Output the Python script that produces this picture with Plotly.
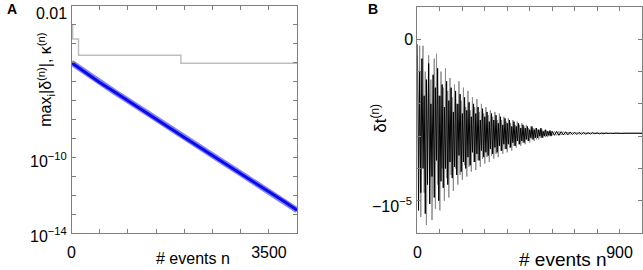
import plotly.graph_objects as go

W, H = 643, 270

# ---------------- Panel A data ----------------
kappa_n = [0, 18, 18, 123, 123, 1938, 1938, 4000]
kappa_v = [1.0e-3, 1.0e-3, 1.8e-4, 1.8e-4, 2.5e-5, 2.5e-5, 9.3e-6, 9.3e-6]

delta_n = [0, 250, 500, 750, 1000, 1250, 1500, 1750, 2000, 2250, 2500,
           2750, 3000, 3250, 3500, 3750, 4000]
delta_v = [1.0e-5, 2.9e-6, 9.1e-7, 3.0e-7, 1.0e-7, 3.2e-8, 1.07e-8, 3.4e-9,
           1.12e-9, 3.7e-10, 1.25e-10, 4.2e-11, 1.38e-11, 4.6e-12, 1.5e-12,
           5.0e-13, 1.6e-13]

a_xticks = [0, 500, 1000, 1500, 2000, 2500, 3000, 3500, 4000]
a_xtext = ["0", "", "", "", "", "", "", "3500", ""]
a_yticks = [1e-14, 1e-13, 1e-12, 1e-11, 1e-10, 1e-9, 1e-8, 1e-7, 1e-6,
            1e-5, 1e-4, 1e-3, 1e-2]
# labelled y ticks of panel A: (label, pixel row of the label centre)
a_ylabels = [("10<sup>\u221214</sup>", 235), ("10<sup>\u221210</sup>", 160),
             ("0.01", 13)]

# ---------------- Panel B data (units of 1e-6) ----------------
b_n = list(range(0, 600, 5)) + list(range(600, 1001, 10))

black_v = [
    -0.3, -10.6, -2.0, -9.5, -1.2, -8.0, -3.5, -10.8, -2.5, -9.0,
    -1.5, -10.2, -4.0, -8.5, -2.2, -9.8, -3.0, -7.5, -1.8, -10.0,
    -3.5, -8.8, -2.8, -9.2, -4.2, -8.0, -2.6, -9.0, -3.8, -7.6,
    -3.0, -8.6, -4.5, -7.9, -3.2, -8.4, -4.0, -7.2, -3.4, -8.2,
    -4.6, -7.6, -3.6, -8.0, -4.4, -7.3, -3.9, -7.8, -4.8, -7.0,
    -4.0, -7.6, -4.6, -7.1, -4.2, -7.5, -5.0, -6.9, -4.3, -7.3,
    -4.8, -7.0, -4.5, -7.2, -5.1, -6.8, -4.6, -7.1, -5.0, -6.7,
    -4.7, -7.0, -5.2, -6.6, -4.8, -6.9, -5.3, -6.5, -4.9, -6.8,
    -5.2, -6.5, -5.0, -6.7, -5.4, -6.4, -5.1, -6.6, -5.4, -6.3,
    -5.2, -6.5, -5.5, -6.3, -5.3, -6.4, -5.5, -6.2, -5.4, -6.3,
    -5.6, -6.1, -5.4, -6.2, -5.6, -6.1, -5.5, -6.1, -5.6, -6.0,
    -5.5, -6.1, -5.7, -6.0, -5.6, -6.0, -5.7, -5.95, -5.65, -6.0,
    -5.7, -5.95, -5.7, -5.95, -5.72, -5.93, -5.73, -5.92, -5.74, -5.9,
    -5.75, -5.9, -5.76, -5.88, -5.77, -5.88, -5.78, -5.87, -5.78, -5.86,
    -5.79, -5.86, -5.8, -5.85, -5.8, -5.84, -5.81, -5.84, -5.81, -5.83,
    -5.81, -5.83, -5.82, -5.83, -5.82, -5.83, -5.82, -5.82, -5.82, -5.82,
    -5.82,
]

grey_v = [
    -1.0, -8.0, -0.4, -11.0, -3.0, -0.4, -9.5, -2.0, -11.5, -4.0,
    -1.0, -8.5, -2.5, -11.2, -5.0, -1.2, -10.5, -0.9, -9.0, -3.5,
    -10.6, -2.0, -8.0, -3.0, -10.0, -1.8, -8.6, -3.2, -9.8, -2.4,
    -8.4, -3.6, -9.4, -2.8, -8.0, -4.0, -9.0, -2.6, -8.4, -3.8,
    -8.7, -3.0, -7.8, -4.2, -8.5, -3.2, -7.9, -4.4, -8.2, -3.6,
    -7.6, -4.2, -8.1, -3.7, -7.5, -4.5, -7.9, -4.0, -7.4, -4.6,
    -7.7, -4.2, -7.3, -4.7, -7.6, -4.4, -7.2, -4.8, -7.4, -4.5,
    -7.1, -5.0, -7.3, -4.6, -6.9, -5.0, -7.1, -4.8, -6.8, -5.1,
    -7.0, -4.9, -6.7, -5.2, -6.9, -5.0, -6.6, -5.3, -6.7, -5.1,
    -6.5, -5.3, -6.6, -5.2, -6.4, -5.4, -6.5, -5.3, -6.3, -5.5,
    -6.4, -5.4, -6.2, -5.5, -6.3, -5.5, -6.2, -5.6, -6.2, -5.6,
    -6.1, -5.6, -6.1, -5.65, -6.05, -5.65, -6.05, -5.7, -6.0, -5.7,
    -5.95, -5.7, -5.95, -5.7, -5.93, -5.72, -5.92, -5.74, -5.9, -5.75,
    -5.9, -5.76, -5.88, -5.77, -5.87, -5.78, -5.87, -5.78, -5.86, -5.79,
    -5.85, -5.8, -5.85, -5.8, -5.84, -5.81, -5.84, -5.81, -5.83, -5.82,
    -5.83, -5.82, -5.83, -5.82, -5.82, -5.82, -5.82, -5.82, -5.82, -5.82,
    -5.82,
]

b_xticks = [0, 100, 200, 300, 400, 500, 600, 700, 800, 900, 1000]
b_xtext = ["0", "", "", "", "", "", "", "", "", "900", ""]
b_yticks = [0, -2e-6, -4e-6, -6e-6, -8e-6, -1e-5]
b_ytext = ["0", "", "", "", "", ""]
b_low_label = "\u221210<sup>\u22125</sup>"

SCALE = 1e-6
black_s = [v * SCALE for v in black_v]
grey_s = [v * SCALE for v in grey_v]

FONT = "Liberation Sans, Arial, Helvetica, sans-serif"
AXC = "#7f7f7f"


def px(x):
    return x / W


def py(y):
    return 1 - y / H


fig = go.Figure()

# Panel A
fig.add_trace(go.Scatter(x=kappa_n, y=kappa_v, mode="lines",
                         line=dict(color="#bdbdbd", width=1.5),
                         xaxis="x", yaxis="y", showlegend=False))
fig.add_trace(go.Scatter(x=delta_n, y=delta_v, mode="lines",
                         line=dict(color="rgba(90,90,255,0.75)", width=6),
                         xaxis="x", yaxis="y", showlegend=False))
fig.add_trace(go.Scatter(x=delta_n, y=delta_v, mode="lines",
                         line=dict(color="#0a0ae6", width=3),
                         xaxis="x", yaxis="y", showlegend=False))

# Panel B
fig.add_trace(go.Scatter(x=b_n, y=grey_s, mode="lines",
                         line=dict(color="#8c8c8c", width=1),
                         xaxis="x2", yaxis="y2", showlegend=False))
fig.add_trace(go.Scatter(x=b_n, y=black_s, mode="lines",
                         line=dict(color="#000000", width=1),
                         xaxis="x2", yaxis="y2", showlegend=False))

common = dict(showline=True, linecolor=AXC, linewidth=1, mirror="ticks",
              ticks="inside", ticklen=4, tickcolor=AXC, showgrid=False,
              zeroline=False,
              tickfont=dict(family=FONT, size=16, color="black"))

annotations = [
    dict(text="<b>A</b>", x=px(1), y=py(9), xref="paper", yref="paper",
         xanchor="left", yanchor="middle", showarrow=False,
         font=dict(family=FONT, size=14, color="black")),
    dict(text="<b>B</b>", x=px(364), y=py(9), xref="paper", yref="paper",
         xanchor="left", yanchor="middle", showarrow=False,
         font=dict(family=FONT, size=14, color="black")),
    dict(text=b_low_label, x=px(413), y=py(205), xref="paper", yref="paper",
         xanchor="right", yanchor="middle", showarrow=False,
         font=dict(family=FONT, size=16, color="black")),
    dict(text="# events n", x=px(190), y=py(258), xref="paper", yref="paper",
         xanchor="center", yanchor="middle", showarrow=False,
         font=dict(family=FONT, size=16, color="black")),
    dict(text="# events n", x=px(562), y=py(259), xref="paper", yref="paper",
         xanchor="center", yanchor="middle", showarrow=False,
         font=dict(family=FONT, size=19, color="black")),
    dict(text="max<sub>i</sub>|\u03b4<sup>(n)</sup>|, \u03ba<sup>(n)</sup>",
         x=px(42), y=py(80), xref="paper", yref="paper", textangle=-90,
         xanchor="center", yanchor="middle", showarrow=False,
         font=dict(family=FONT, size=16, color="black")),
    dict(text="\u03b4t<sup>(n)</sup>",
         x=px(377), y=py(118), xref="paper", yref="paper", textangle=-90,
         xanchor="center", yanchor="middle", showarrow=False,
         font=dict(family=FONT, size=17, color="black")),
]
for label, row in a_ylabels:
    annotations.append(dict(text=label, x=px(65), y=py(row), xref="paper",
                            yref="paper", xanchor="right", yanchor="middle",
                            showarrow=False,
                            font=dict(family=FONT, size=16, color="black")))

fig.update_layout(
    width=W, height=H,
    margin=dict(l=0, r=0, t=0, b=0),
    paper_bgcolor="white", plot_bgcolor="white",
    xaxis=dict(domain=[px(68), px(295)], range=[0, 4000],
               tickvals=a_xticks, ticktext=a_xtext, anchor="y",
               ticklabelstandoff=5, **common),
    yaxis=dict(domain=[py(233), py(6)], type="log", range=[-14.0005, -1.9995],
               tickvals=a_yticks, showticklabels=False, anchor="x", **common),
    xaxis2=dict(domain=[px(416), px(642)], range=[0, 1000],
                tickvals=b_xticks, ticktext=b_xtext, anchor="y2",
                ticklabelstandoff=5, **common),
    yaxis2=dict(domain=[py(233), py(7)], range=[-1.2e-5, 2e-6],
                tickvals=b_yticks, ticktext=b_ytext, anchor="x2", **common),
    annotations=annotations,
)

fig.write_html(
    "out.html",
    config={"displayModeBar": False},
    post_script="document.body.style.margin='0';document.body.style.padding='0';"
                "document.body.style.overflow='hidden';",
)
